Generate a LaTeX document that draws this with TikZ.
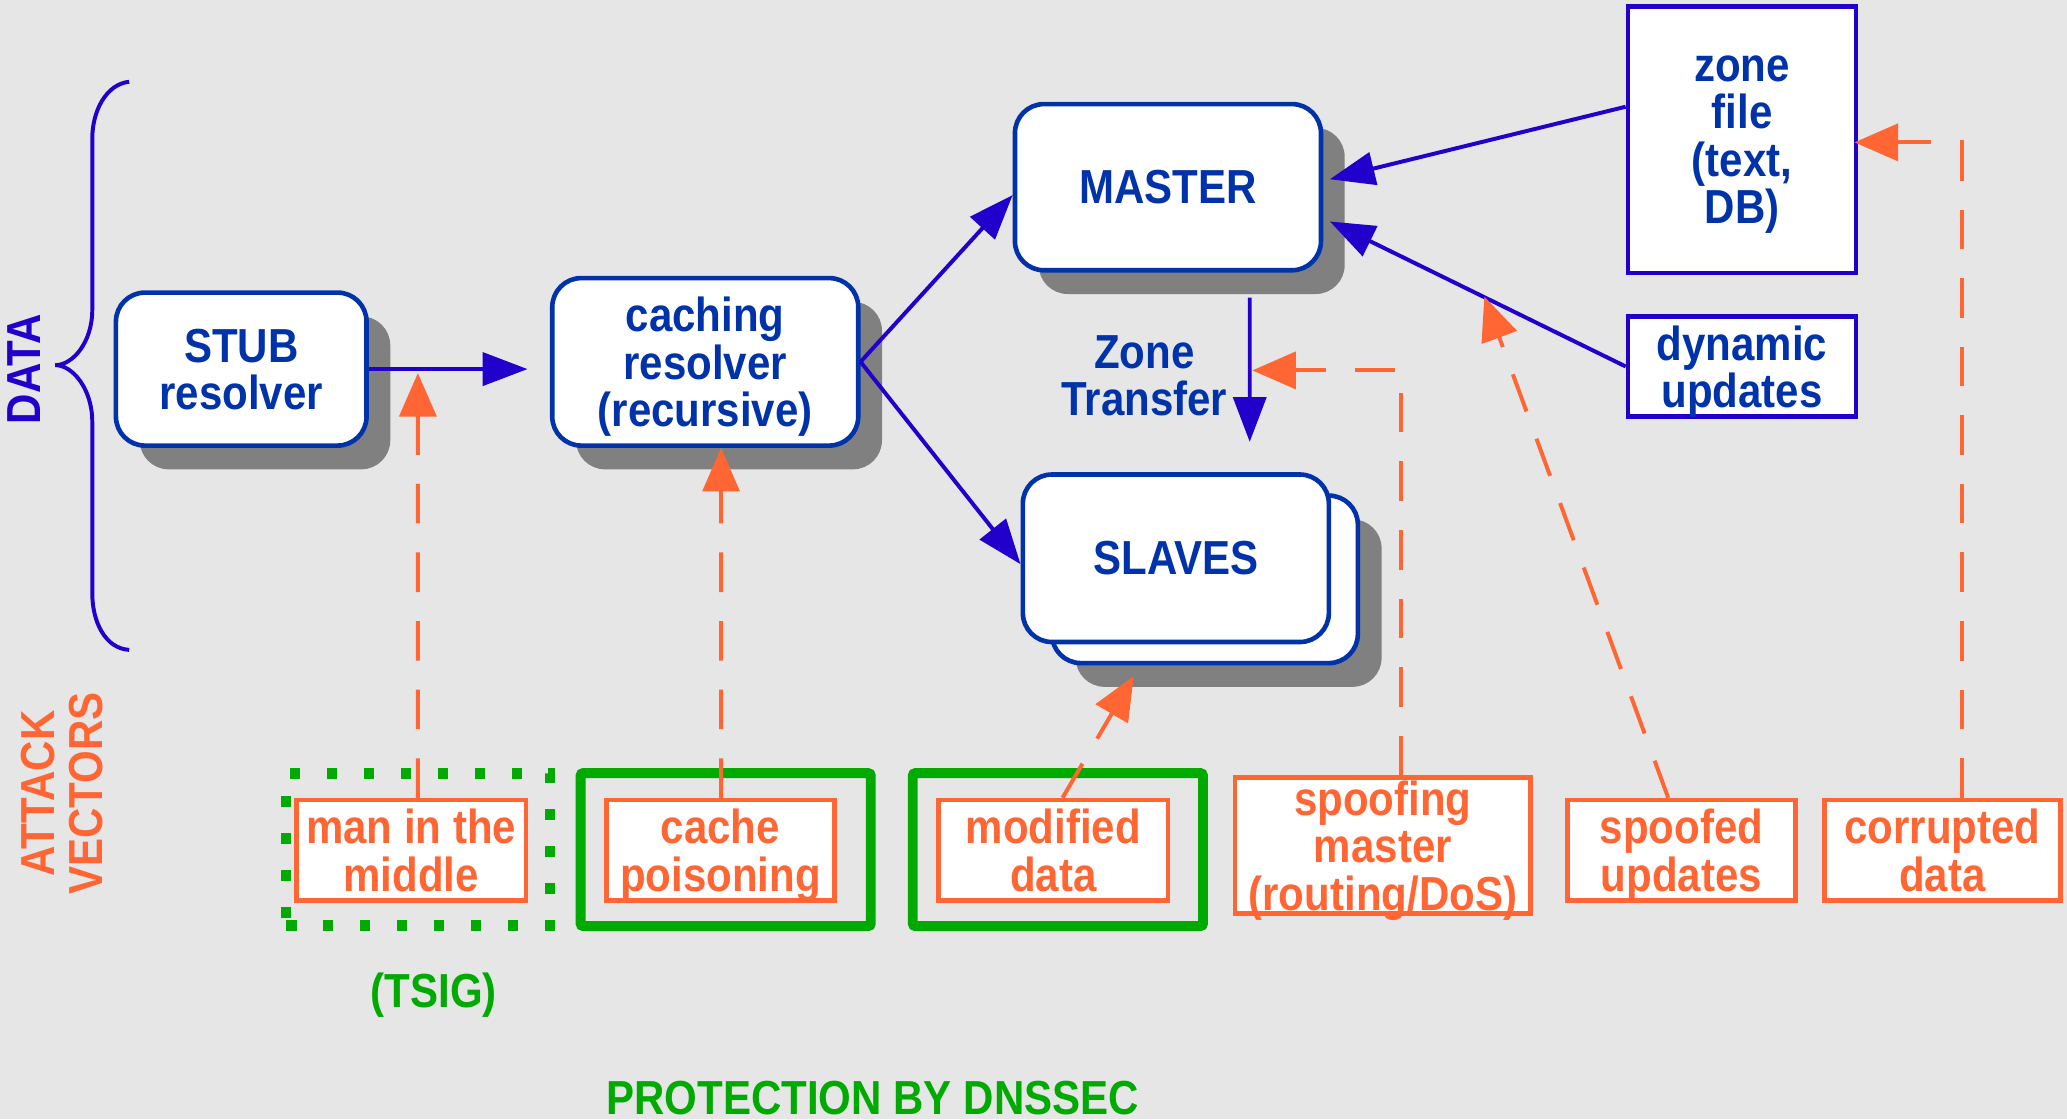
\documentclass[tikz,border=0pt]{standalone}
\usepackage{fontspec}
\setmainfont{Liberation Sans}[FakeStretch=0.88]
\usetikzlibrary{arrows.meta,shadows,calc}
\definecolor{bg}{HTML}{E6E6E6}
\definecolor{dblue}{HTML}{0033AA}
\definecolor{vblue}{HTML}{2200CC}
\definecolor{orng}{HTML}{FF6633}
\definecolor{grn}{HTML}{00AA00}
\definecolor{shd}{HTML}{808080}
\tikzset{
  rbox/.style={draw=dblue, line width=0.035cm, fill=white, rounded corners=0.22cm, align=center, text=dblue, inner sep=0pt, text depth=0pt,
    drop shadow={shadow xshift=0.18cm, shadow yshift=-0.18cm, fill=shd, opacity=1}},
  rboxns/.style={draw=dblue, line width=0.035cm, fill=white, rounded corners=0.22cm, align=center, text=dblue, inner sep=0pt, text depth=0pt},
  sqbox/.style={draw=vblue, line width=0.035cm, fill=white, align=center, text=dblue, inner sep=0pt, text depth=0pt},
  atk/.style={draw=orng, line width=0.035cm, fill=white, align=center, text=orng, inner sep=0pt, text depth=0pt},
  barrow/.style={draw=vblue, line width=0.03cm, -{Triangle[length=0.34cm,width=0.25cm]}},
  oarrow/.style={draw=orng, line width=0.03cm, dash pattern=on 0.3cm off 0.22cm, -{Triangle[length=0.33cm,width=0.28cm]}},
  gsolid/.style={draw=grn, line width=0.075cm, rounded corners=0.02cm, minimum width=2.2cm, minimum height=1.16cm, inner sep=0pt},
  gdot/.style={draw=grn, line width=0.08cm, dash pattern=on 0.08cm off 0.2cm, minimum width=2.0cm, minimum height=1.15cm, inner sep=0pt},
  lbl/.style={inner sep=0pt, align=center}
}
\begin{document}
\begin{tikzpicture}[x=0.01cm, y=-0.01cm, font=\fontsize{10.3}{10.2}\selectfont\bfseries]
\fill[bg] (0,0) rectangle (1568,849);
\useasboundingbox (0,0) rectangle (1568,849);

% brace
\draw[vblue, line width=0.03cm] (98,62) .. controls (80,64) and (70,85) .. (70,105) -- (70,235)
  .. controls (70,260) and (55,277) .. (42,277) .. controls (55,277) and (70,295) .. (70,320)
  -- (70,450) .. controls (70,472) and (80,492) .. (98,493);
\node[lbl, text=vblue, rotate=90] (data) at (18,280) {DATA};
\node[lbl, text=orng, rotate=90] (av) at (47,602) {ATTACK\\VECTORS};

% data nodes
\node[rbox, minimum width=1.9cm, minimum height=1.16cm] (stub) at (183,280) {STUB\\resolver};
\node[rbox, minimum width=2.32cm, minimum height=1.27cm] (caching) at (535,274.5) {caching\\resolver\\(recursive)};
\node[rbox, minimum width=2.32cm, minimum height=1.26cm] (master) at (886,142) {MASTER};
\node[rbox, minimum width=2.32cm, minimum height=1.27cm] (slavesb) at (914,439.5) {};
\node[rboxns, minimum width=2.32cm, minimum height=1.27cm] (slaves) at (892,423.5) {SLAVES};
\node[sqbox, minimum width=1.73cm, minimum height=2.02cm] (zone) at (1321.5,106) {zone\\file\\(text,\\DB)};
\node[sqbox, minimum width=1.73cm, minimum height=0.76cm] (dyn) at (1321.5,278) {dynamic\\updates};
\node[lbl, text=dblue] (zt) at (868,285) {Zone\\Transfer};

% blue arrows
\draw[barrow, shorten >=0.17cm] (stub.east) -- (stub.east -| caching.west);
\draw[barrow] (caching.east) -- ([yshift=-0.06cm]master.west);
\draw[barrow] (caching.east) -- ([yshift=-0.045cm]slaves.west);
\draw[barrow] ([yshift=0.25cm]zone.west) -- ([xshift=0.05cm,yshift=0.06cm]master.east);
\draw[barrow] (dyn.west) -- ([xshift=0.05cm,yshift=-0.26cm]master.east);
\draw[barrow, shorten <=0.19cm, shorten >=0.23cm] ([xshift=0.62cm]master.south) -- ([xshift=0.56cm]slaves.north);

% green protection boxes
\node[gdot] (tsigbox) at (317,644.5) {};
\node[gsolid] (g1) at (550.5,644.5) {};
\node[gsolid] (g2) at (802.5,644.5) {};
\node[lbl, text=grn] (tsig) at (329,755) {(TSIG)};
\node[lbl, text=grn] (prot) at (662,833) {PROTECTION BY DNSSEC};

% attack boxes
\node[atk, minimum width=1.74cm, minimum height=0.76cm] (mitm) at (312,645) {man in the\\middle};
\node[atk, minimum width=1.73cm, minimum height=0.76cm] (cachep) at (546.5,645) {cache\\poisoning};
\node[atk, minimum width=1.74cm, minimum height=0.76cm] (modif) at (799,645) {modified\\data};
\node[atk, minimum width=2.24cm, minimum height=1.03cm] (spm) at (1049,641.5) {spoofing\\master\\(routing/DoS)};
\node[atk, minimum width=1.73cm, minimum height=0.76cm] (spu) at (1275.5,645) {spoofed\\updates};
\node[atk, minimum width=1.79cm, minimum height=0.76cm] (cor) at (1473.5,645) {corrupted\\data};

% attack targets
\coordinate (t1) at (317,283);
\coordinate (t3) at (860,513);
\coordinate (t4) at (950,281);
\coordinate (t5) at (1126,225);

% orange dashed arrows
\draw[oarrow] ([xshift=0.05cm]mitm.north) -- (t1);
\draw[oarrow] ([xshift=0.005cm]cachep.north) -- ([xshift=0.12cm]caching.south);
\draw[oarrow] ([xshift=0.07cm]modif.north) -- (t3);
\draw[oarrow] ([xshift=0.14cm]spm.north) |- (t4);
\draw[oarrow] ([xshift=-0.1cm]spu.north) -- (t5);
\draw[oarrow] ([xshift=0.145cm]cor.north) |- ([xshift=-0.03cm,yshift=-0.02cm]zone.east);
\end{tikzpicture}
\end{document}
